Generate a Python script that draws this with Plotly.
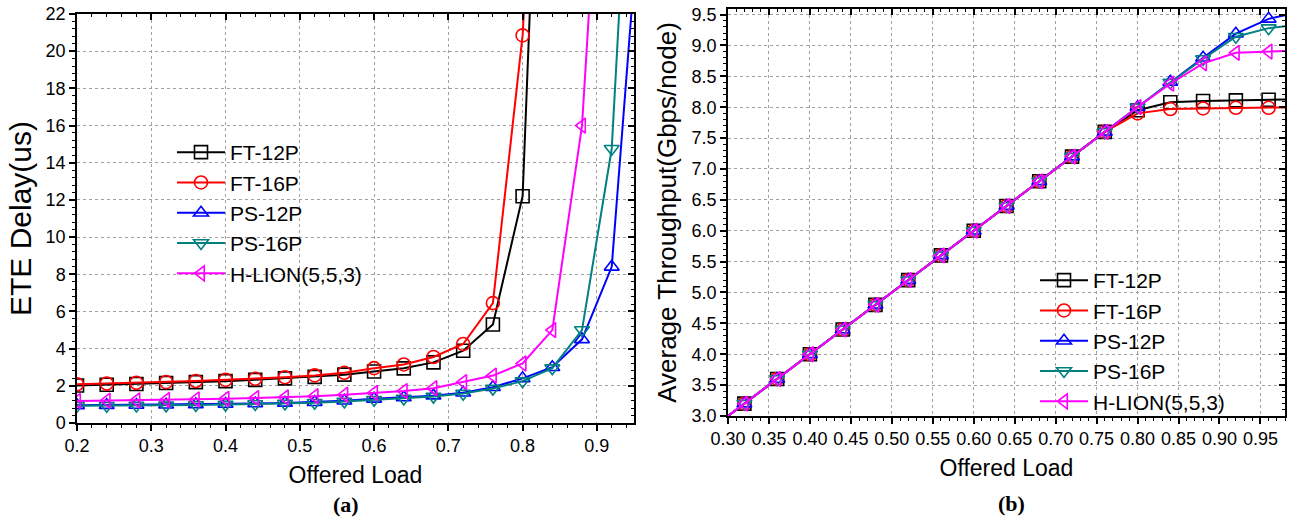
import plotly.graph_objects as go

# ---------------- data ----------------
names = ["FT-12P", "FT-16P", "PS-12P", "PS-16P", "H-LION(5,5,3)"]
colors = ["#000000", "#FF0000", "#0000FF", "#008080", "#FF00FF"]
symbols = ["square-open", "circle-open", "triangle-up-open", "triangle-down-open", "triangle-left-open"]

# (a) ETE delay
load_a = [0.20, 0.24, 0.28, 0.32, 0.36, 0.40, 0.44, 0.48, 0.52, 0.56,
          0.60, 0.64, 0.68, 0.72, 0.76, 0.80, 0.84, 0.88, 0.92, 0.96]
delay_ft12 = [2.02, 2.06, 2.10, 2.15, 2.20, 2.25, 2.32, 2.40, 2.48, 2.60,
              2.77, 2.94, 3.26, 3.89, 5.30, 12.2, 53.0, None, None, None]
delay_ft16 = [2.08, 2.12, 2.16, 2.20, 2.26, 2.32, 2.38, 2.46, 2.56, 2.70,
              2.95, 3.15, 3.55, 4.25, 6.45, 20.85, 51.0, None, None, None]
delay_ps12 = [0.95, 0.96, 0.97, 0.98, 1.00, 1.02, 1.05, 1.08, 1.12, 1.20,
              1.30, 1.37, 1.47, 1.63, 1.92, 2.40, 3.00, 4.50, 8.40, 29.0]
delay_ps16 = [0.93, 0.93, 0.94, 0.95, 0.97, 0.99, 1.02, 1.05, 1.09, 1.16,
              1.25, 1.32, 1.42, 1.58, 1.85, 2.25, 2.95, 5.00, 14.75, 44.0]
delay_hlion = [1.18, 1.20, 1.22, 1.24, 1.27, 1.30, 1.34, 1.38, 1.44, 1.52,
               1.62, 1.72, 1.87, 2.20, 2.55, 3.20, 5.00, 16.0, 42.0, None]

# (b) Average throughput
load_b = [0.28, 0.32, 0.36, 0.40, 0.44, 0.48, 0.52, 0.56, 0.60, 0.64,
          0.68, 0.72, 0.76, 0.80, 0.84, 0.88, 0.92, 0.96, 1.00]
thr_ft12 = [2.8, 3.2, 3.6, 4.0, 4.4, 4.8, 5.2, 5.6, 6.0, 6.4,
            6.8, 7.2, 7.6, 7.95, 8.08, 8.10, 8.11, 8.12, 8.13]
thr_ft16 = [2.8, 3.2, 3.6, 4.0, 4.4, 4.8, 5.2, 5.6, 6.0, 6.4,
            6.8, 7.2, 7.6, 7.90, 7.97, 7.98, 7.99, 7.99, 8.00]
thr_ps12 = [2.8, 3.2, 3.6, 4.0, 4.4, 4.8, 5.2, 5.6, 6.0, 6.4,
            6.8, 7.2, 7.6, 8.00, 8.41, 8.80, 9.19, 9.43, 9.55]
thr_ps16 = [2.8, 3.2, 3.6, 4.0, 4.4, 4.8, 5.2, 5.6, 6.0, 6.4,
            6.8, 7.2, 7.6, 8.00, 8.40, 8.78, 9.14, 9.28, 9.34]
thr_hlion = [2.8, 3.2, 3.6, 4.0, 4.4, 4.8, 5.2, 5.6, 6.0, 6.4,
             6.8, 7.2, 7.6, 8.00, 8.38, 8.71, 8.88, 8.90, 8.92]

delays = [delay_ft12, delay_ft16, delay_ps12, delay_ps16, delay_hlion]
thrs = [thr_ft12, thr_ft16, thr_ps12, thr_ps16, thr_hlion]

W, H = 1290, 521
FONT = "Liberation Sans, Arial, sans-serif"

fig = go.Figure()

for i in range(5):
    fig.add_trace(go.Scatter(
        x=load_a, y=delays[i], name=names[i], mode="lines+markers",
        line=dict(color=colors[i], width=2),
        marker=dict(symbol=symbols[i], size=13, color=colors[i], line=dict(width=1.6, color=colors[i])),
        xaxis="x", yaxis="y", legend="legend", connectgaps=False))
for i in range(5):
    fig.add_trace(go.Scatter(
        x=load_b, y=thrs[i], name=names[i], mode="lines+markers",
        line=dict(color=colors[i], width=2),
        marker=dict(symbol=symbols[i], size=13, color=colors[i], line=dict(width=1.6, color=colors[i])),
        xaxis="x2", yaxis="y2", legend="legend2"))

# dummy traces so the mirror axes render
for xa, ya in [("x3", "y"), ("x", "y3"), ("x4", "y2"), ("x2", "y4")]:
    fig.add_trace(go.Scatter(x=[None], y=[None], xaxis=xa, yaxis=ya, showlegend=False, hoverinfo="skip"))

xa_dom = [77 / W, 634 / W]
xb_dom = [728 / W, 1285 / W]
ya_dom = [1 - 423 / H, 1 - 14 / H]
yb_dom = [1 - 416 / H, 1 - 9 / H]

tickfont = dict(family=FONT, size=18, color="black")
grid = dict(showgrid=True, gridcolor="#a0a0a0", griddash="dot", gridwidth=1)
common = dict(showline=True, linecolor="black", linewidth=1.5, ticks="outside", automargin=False,
              ticklen=6, tickwidth=1.5, tickcolor="black", tickfont=tickfont, zeroline=False)
mirror = dict(showticklabels=False, showgrid=False, automargin=False, zeroline=False,
              showline=True, linecolor="black", linewidth=1.5, ticks="inside", ticklen=6, tickwidth=1.5,
              tickcolor="black")
minor_out = lambda d: dict(dtick=d, ticks="outside", ticklen=3.5, tickwidth=1, tickcolor="black", showgrid=False)
minor_in = lambda d: dict(dtick=d, ticks="inside", ticklen=3.5, tickwidth=1, tickcolor="black", showgrid=False)

fig.update_layout(
    width=W, height=H, margin=dict(l=0, r=0, t=0, b=0),
    paper_bgcolor="white", plot_bgcolor="white",
    font=dict(family=FONT, color="black"),
    xaxis=dict(domain=xa_dom, anchor="y", range=[0.2, 0.95], dtick=0.1, tick0=0.2, minor=minor_out(0.02),
               title=dict(text="Offered Load", font=dict(family=FONT, size=23, color="black"), standoff=12),
               **grid, **common),
    yaxis=dict(domain=ya_dom, anchor="x", range=[0, 22], dtick=2, minor=minor_out(0.4),
               title=dict(text="ETE Delay(us)", font=dict(family=FONT, size=30, color="black"), standoff=5),
               **grid, **common),
    xaxis2=dict(domain=xb_dom, anchor="y2", range=[0.30, 0.98], dtick=0.05, tick0=0.3, tickformat=".2f",
                minor=minor_out(0.01),
                title=dict(text="Offered Load", font=dict(family=FONT, size=23, color="black"), standoff=12),
                **grid, **common),
    yaxis2=dict(domain=yb_dom, anchor="x2", range=[3.0, 9.59], dtick=0.5, tick0=3.0, tickformat=".1f",
                minor=minor_out(0.1),
                title=dict(text="Average Throughput(Gbps/node)", font=dict(family=FONT, size=26, color="black"),
                           standoff=8),
                **grid, **common),
    # mirrored axes with inside ticks
    xaxis3=dict(overlaying="x", matches="x", side="top", anchor="y", dtick=0.1, tick0=0.2, range=[0.2, 0.95],
                minor=minor_in(0.02), **mirror),
    yaxis3=dict(overlaying="y", matches="y", side="right", anchor="x", dtick=2, range=[0, 22],
                minor=minor_in(0.4), **mirror),
    xaxis4=dict(overlaying="x2", matches="x2", side="top", anchor="y2", dtick=0.05, tick0=0.3,
                range=[0.30, 0.98], minor=minor_in(0.01), **mirror),
    yaxis4=dict(overlaying="y2", matches="y2", side="right", anchor="x2", dtick=0.5, tick0=3.0,
                range=[3.0, 9.59], minor=minor_in(0.1), **mirror),
    legend=dict(x=172 / W, y=1 - 132 / H, xanchor="left", yanchor="top", bgcolor="rgba(0,0,0,0)",
                itemwidth=48, font=dict(family=FONT, size=21, color="black"), tracegroupgap=0),
    legend2=dict(x=1035 / W, y=1 - 260 / H, xanchor="left", yanchor="top", bgcolor="rgba(0,0,0,0)",
                 itemwidth=48, font=dict(family=FONT, size=21, color="black"), tracegroupgap=0),
    annotations=[
        dict(text="<b>(a)</b>", x=346 / W, y=1 - 504 / H, xref="paper", yref="paper", showarrow=False,
             xanchor="center", yanchor="middle",
             font=dict(family="Liberation Serif, Times New Roman, serif", size=22, color="black")),
        dict(text="<b>(b)</b>", x=1011 / W, y=1 - 503 / H, xref="paper", yref="paper", showarrow=False,
             xanchor="center", yanchor="middle",
             font=dict(family="Liberation Serif, Times New Roman, serif", size=22, color="black")),
    ],
)

fig.write_html("out.html", config={"displayModeBar": False},
               post_script="document.body.style.margin='0px';")
